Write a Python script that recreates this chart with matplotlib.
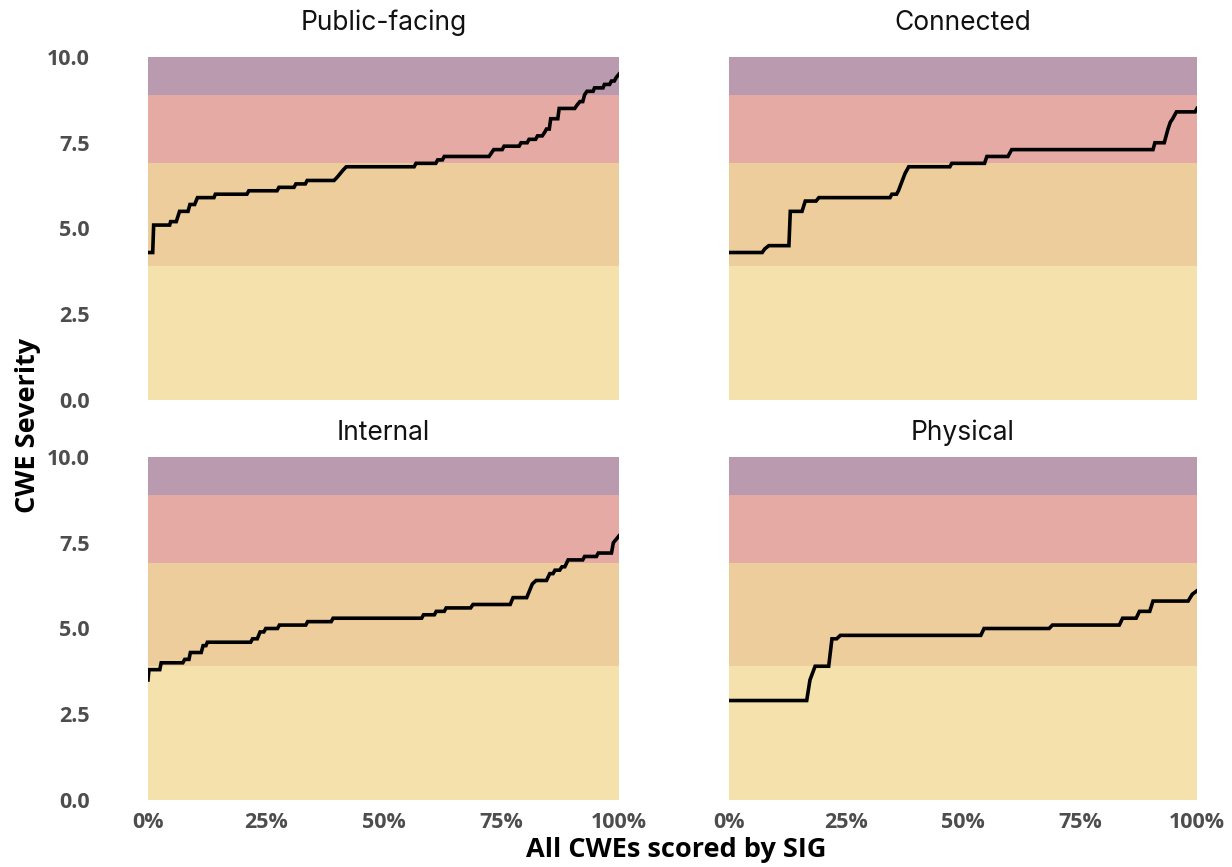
import matplotlib
matplotlib.use("Agg")
import matplotlib.pyplot as plt
from matplotlib.ticker import PercentFormatter, FormatStrFormatter

# ---------------- data ----------------
panel_titles = ["Public-facing", "Connected", "Internal", "Physical"]

public_x = [0, 1.0, 1.2, 4.6, 4.8, 6.0, 6.7, 8.5, 8.9, 9.9, 10.5, 14.0, 14.3, 21.0, 21.4, 27.4,
            27.8, 31.0, 31.4, 33.4, 33.8, 39.5, 40.2, 40.8, 41.4, 42.1, 56.5, 56.9, 61.1, 61.5,
            62.5, 62.9, 72.4, 72.9, 73.4, 75.2, 75.6, 78.8, 79.2, 80.5, 80.9, 82.3, 82.7, 83.7,
            84.2, 84.6, 85.2, 85.5, 87.0, 87.3, 90.6, 91.1, 91.7, 92.3, 92.7, 93.2, 94.5, 94.8,
            96.6, 96.9, 98.0, 98.4, 99.0, 99.4, 100]
public_y = [4.3, 4.3, 5.1, 5.1, 5.2, 5.2, 5.5, 5.5, 5.7, 5.7, 5.9, 5.9, 6.0, 6.0, 6.1, 6.1,
            6.2, 6.2, 6.3, 6.3, 6.4, 6.4, 6.5, 6.6, 6.7, 6.8, 6.8, 6.9, 6.9, 7.0,
            7.0, 7.1, 7.1, 7.2, 7.3, 7.3, 7.4, 7.4, 7.5, 7.5, 7.6, 7.6, 7.7, 7.7,
            7.8, 7.9, 7.9, 8.2, 8.2, 8.5, 8.5, 8.6, 8.7, 8.7, 8.9, 9.0, 9.0, 9.1,
            9.1, 9.2, 9.2, 9.3, 9.3, 9.4, 9.5]

connected_x = [0, 7.1, 7.6, 8.5, 12.8, 13.1, 15.6, 16.3, 18.6, 19.2, 34.4, 34.8, 35.8, 36.2,
               36.9, 37.6, 38.4, 47.2, 47.6, 54.6, 55.1, 59.6, 60.4, 90.6, 91.0, 93.0, 93.8,
               94.3, 94.8, 95.6, 99.6, 100]
connected_y = [4.3, 4.3, 4.4, 4.5, 4.5, 5.5, 5.5, 5.8, 5.8, 5.9, 5.9, 6.0, 6.0, 6.1,
               6.35, 6.6, 6.8, 6.8, 6.9, 6.9, 7.1, 7.1, 7.3, 7.3, 7.5, 7.5, 7.9,
               8.1, 8.2, 8.4, 8.4, 8.5]

internal_x = [0, 0.2, 2.5, 2.8, 7.4, 7.8, 8.7, 9.0, 11.3, 11.7, 12.3, 12.6, 21.8, 22.2, 23.2,
              23.8, 24.6, 25.0, 27.5, 27.9, 33.5, 33.9, 38.9, 39.3, 58.1, 58.5, 60.8, 61.2,
              62.9, 63.3, 68.5, 69.0, 76.9, 77.5, 80.4, 81.0, 81.6, 82.4, 84.6, 85.3, 86.0,
              86.4, 87.4, 87.9, 88.5, 89.2, 92.3, 92.7, 95.2, 95.6, 98.4, 98.8, 99.4, 100]
internal_y = [3.5, 3.8, 3.8, 4.0, 4.0, 4.1, 4.1, 4.3, 4.3, 4.5, 4.5, 4.6, 4.6, 4.7, 4.7,
              4.9, 4.9, 5.0, 5.0, 5.1, 5.1, 5.2, 5.2, 5.3, 5.3, 5.4, 5.4, 5.5,
              5.5, 5.6, 5.6, 5.7, 5.7, 5.9, 5.9, 6.1, 6.3, 6.4, 6.4, 6.6, 6.6,
              6.7, 6.7, 6.8, 6.8, 7.0, 7.0, 7.1, 7.1, 7.2, 7.2, 7.5, 7.6, 7.7]

physical_x = [0, 16.6, 17.3, 18.4, 21.3, 22.0, 23.0, 23.8, 53.8, 54.5, 68.4, 69.1, 83.4, 84.1,
              87.0, 87.7, 89.9, 90.6, 98.1, 99.0, 100]
physical_y = [2.9, 2.9, 3.5, 3.9, 3.9, 4.7, 4.7, 4.8, 4.8, 5.0, 5.0, 5.1, 5.1, 5.3,
              5.3, 5.5, 5.5, 5.8, 5.8, 6.0, 6.1]

band_lo = [0.0, 3.9, 6.9, 8.9]
band_hi = [3.9, 6.9, 8.9, 10.0]
band_colors = ["#F5E1AC", "#EDCD9B", "#E4AAA3", "#BA9AAE"]

y_ticks = [0.0, 2.5, 5.0, 7.5, 10.0]
x_ticks = [0, 25, 50, 75, 100]

series_x = [public_x, connected_x, internal_x, physical_x]
series_y = [public_y, connected_y, internal_y, physical_y]

# ---------------- plot ----------------
W, H = 1232, 867
fig = plt.figure(figsize=(W / 100, H / 100), dpi=100)

positions = [
    (148, 57, 619, 400),
    (729, 57, 1197, 400),
    (148, 457, 619, 800),
    (729, 457, 1197, 800),
]
title_baselines = [30, 30, 439.5, 439.5]

for i, (x0, y0, x1, y1) in enumerate(positions):
    ax = fig.add_axes([x0 / W, 1 - y1 / H, (x1 - x0) / W, (y1 - y0) / H])
    for lo, hi, c in zip(band_lo, band_hi, band_colors):
        ax.axhspan(lo, hi, color=c, lw=0, zorder=0)
    ax.plot([v / 100 for v in series_x[i]], series_y[i], color="black", lw=2.6,
            solid_joinstyle="miter", zorder=3)
    ax.set_xlim(0, 1)
    ax.set_ylim(0, 10)
    for s in ax.spines.values():
        s.set_visible(False)
    ax.tick_params(length=0)
    ax.set_xticks([t / 100 for t in x_ticks])
    ax.set_yticks(y_ticks)
    ax.xaxis.set_major_formatter(PercentFormatter(1.0, decimals=0))
    ax.yaxis.set_major_formatter(FormatStrFormatter("%.1f"))
    if i in (0, 2):
        ax.tick_params(axis="y", pad=42)
        for lab in ax.get_yticklabels():
            lab.set_fontfamily("Open Sans"); lab.set_fontweight("bold")
            lab.set_fontsize(15.5); lab.set_color("#4d4d4d")
    else:
        ax.set_yticklabels([])
    if i in (2, 3):
        ax.tick_params(axis="x", pad=9)
        for lab in ax.get_xticklabels():
            lab.set_fontfamily("Open Sans"); lab.set_fontweight("bold")
            lab.set_fontsize(15.5); lab.set_color("#4d4d4d")
    else:
        ax.set_xticklabels([])
    fig.text((x0 + x1) / 2 / W, 1 - title_baselines[i] / H, panel_titles[i],
             ha="center", va="baseline", family="Inter", size=19, color="#111111")

fig.text(676 / W, 1 - 857 / H, "All CWEs scored by SIG", ha="center", va="baseline",
         family="Open Sans", weight="bold", size=19.5, color="black")
fig.text(28 / W, 1 - 425 / H, "CWE Severity", ha="center", va="center", rotation=90,
         family="Open Sans", weight="bold", size=19.5, color="black")

fig.savefig("out.png", dpi=100, facecolor="white")
